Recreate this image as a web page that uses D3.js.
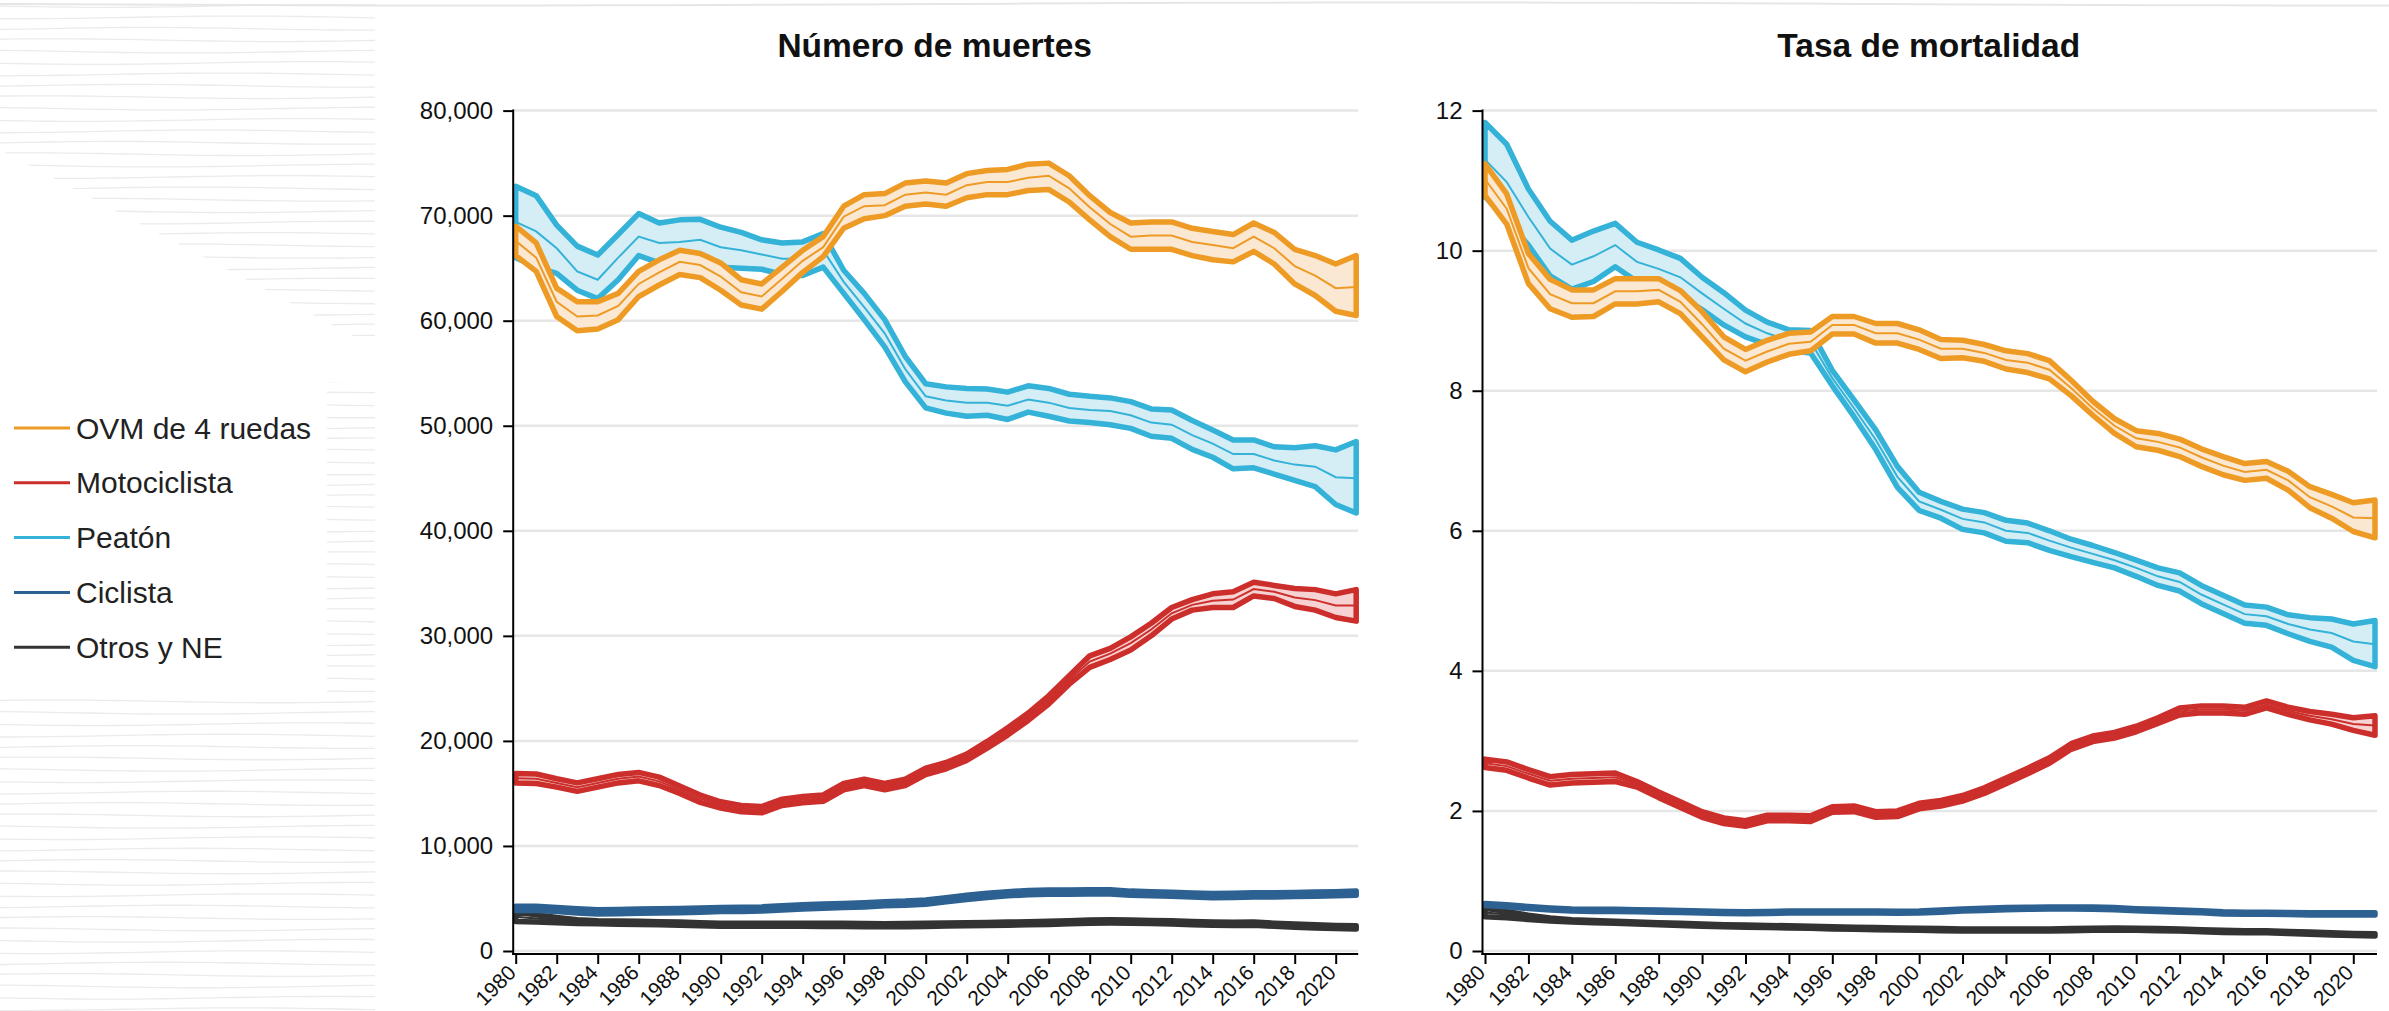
<!DOCTYPE html>
<html>
<head>
<meta charset="utf-8">
<script src="https://cdn.jsdelivr.net/npm/d3@7"></script>
<style>
  html, body { margin: 0; padding: 0; background: #fff; }
  svg { display: block; font-family: "Liberation Sans", Arial, sans-serif; }
</style>
</head>
<body>
<div id="chart"></div>
<script>
// ─── DATA ───────────────────────────────────────────────────────────────────────
const years = [1980, 1981, 1982, 1983, 1984, 1985, 1986, 1987, 1988, 1989,
  1990, 1991, 1992, 1993, 1994, 1995, 1996, 1997, 1998, 1999,
  2000, 2001, 2002, 2003, 2004, 2005, 2006, 2007, 2008, 2009,
  2010, 2011, 2012, 2013, 2014, 2015, 2016, 2017, 2018, 2019,
  2020, 2021];
const yearTicks = [1980, 1982, 1984, 1986, 1988, 1990, 1992, 1994, 1996, 1998, 2000,
  2002, 2004, 2006, 2008, 2010, 2012, 2014, 2016, 2018, 2020];
const categories = ['OVM de 4 ruedas', 'Motociclista', 'Peatón', 'Ciclista', 'Otros y NE'];
const deathTicks = [0, 10, 20, 30, 40, 50, 60, 70, 80];   // miles de muertes
const rateTicks = [0, 2, 4, 6, 8, 10, 12];

// Número de muertes (miles): límite inferior, central, superior
const deathsCarLo = [66.2, 64.7, 60.4, 59.05, 59.2, 60.1, 62.3, 63.4, 64.4, 64.1, 62.9, 61.5, 61.1, 62.8, 64.6, 66.1, 68.8, 69.7, 70.0, 70.9, 71.1, 70.9, 71.7, 72.0, 72.0, 72.4, 72.5, 71.3, 69.6, 68.0, 66.8, 66.8, 66.8, 66.2, 65.8, 65.6, 66.6, 65.4, 63.5, 62.4, 60.9, 60.5];
const deathsCarMid = [67.6, 66.0, 61.8, 60.4, 60.5, 61.4, 63.5, 64.6, 65.6, 65.3, 64.2, 62.7, 62.3, 64.0, 65.7, 67.0, 69.9, 70.9, 71.0, 72.0, 72.2, 72.0, 72.9, 73.2, 73.2, 73.6, 73.8, 72.6, 70.8, 69.2, 68.0, 68.1, 68.1, 67.5, 67.2, 66.9, 68.0, 66.9, 65.2, 64.3, 63.1, 63.2];
const deathsCarHi = [69.0, 67.4, 63.1, 61.8, 61.8, 62.6, 64.7, 65.8, 66.7, 66.4, 65.5, 63.9, 63.5, 65.1, 66.7, 68.0, 70.9, 72.0, 72.1, 73.1, 73.3, 73.1, 74.0, 74.3, 74.4, 74.9, 75.0, 73.8, 71.9, 70.3, 69.3, 69.4, 69.4, 68.8, 68.5, 68.2, 69.3, 68.4, 66.8, 66.2, 65.4, 66.2];

const deathsMotoLo = [16.0, 15.95, 15.6, 15.2, 15.6, 16.0, 16.2, 15.75, 15.0, 14.15, 13.6, 13.25, 13.15, 13.85, 14.1, 14.25, 15.35, 15.75, 15.35, 15.75, 16.8, 17.35, 18.15, 19.3, 20.55, 21.95, 23.5, 25.4, 27.0, 27.75, 28.65, 30.0, 31.6, 32.45, 32.7, 32.7, 33.8, 33.55, 32.8, 32.45, 31.75, 31.4];
const deathsMotoMid = [16.45, 16.4, 16.0, 15.6, 16.0, 16.4, 16.6, 16.15, 15.35, 14.5, 13.9, 13.55, 13.45, 14.15, 14.4, 14.55, 15.65, 16.05, 15.65, 16.05, 17.1, 17.65, 18.45, 19.6, 20.9, 22.3, 23.9, 25.8, 27.55, 28.3, 29.3, 30.6, 32.15, 32.95, 33.35, 33.45, 34.45, 34.2, 33.65, 33.4, 32.9, 32.9];
const deathsMotoHi = [16.9, 16.85, 16.4, 16.0, 16.4, 16.8, 17.0, 16.55, 15.7, 14.85, 14.2, 13.85, 13.75, 14.45, 14.7, 14.85, 15.95, 16.35, 15.95, 16.35, 17.4, 17.95, 18.75, 19.95, 21.25, 22.65, 24.3, 26.2, 28.1, 28.8, 29.9, 31.2, 32.7, 33.45, 34.0, 34.2, 35.1, 34.8, 34.5, 34.4, 34.0, 34.4];

const deathsPedLo = [66.0, 65.1, 64.5, 62.9, 62.1, 63.9, 66.2, 65.5, 65.4, 65.75, 65.1, 65.0, 64.9, 64.4, 64.3, 65.1, 62.6, 60.1, 57.5, 54.2, 51.7, 51.2, 50.9, 51.0, 50.6, 51.3, 50.9, 50.45, 50.3, 50.1, 49.75, 49.0, 48.8, 47.75, 47.0, 45.9, 46.0, 45.4, 44.8, 44.2, 42.5, 41.7];
const deathsPedMid = [69.4, 68.5, 66.9, 64.7, 63.9, 66.0, 68.0, 67.4, 67.5, 67.7, 67.0, 66.7, 66.3, 65.9, 65.9, 66.7, 63.7, 61.3, 58.8, 55.4, 52.8, 52.4, 52.2, 52.2, 51.9, 52.5, 52.2, 51.7, 51.5, 51.4, 51.0, 50.3, 50.1, 49.1, 48.3, 47.3, 47.3, 46.7, 46.3, 46.1, 45.1, 45.0];
const deathsPedHi = [72.8, 71.9, 69.1, 67.1, 66.25, 68.2, 70.2, 69.3, 69.6, 69.65, 68.9, 68.4, 67.7, 67.4, 67.5, 68.3, 64.8, 62.6, 60.1, 56.6, 54.0, 53.7, 53.55, 53.5, 53.2, 53.8, 53.55, 53.0, 52.8, 52.65, 52.3, 51.6, 51.5, 50.5, 49.6, 48.65, 48.65, 48.0, 47.9, 48.1, 47.7, 48.5];

const deathsBikeLo = [3.85, 3.85, 3.75, 3.62, 3.52, 3.55, 3.6, 3.62, 3.65, 3.7, 3.75, 3.77, 3.8, 3.9, 4.0, 4.07, 4.13, 4.2, 4.3, 4.35, 4.45, 4.68, 4.9, 5.1, 5.25, 5.35, 5.4, 5.4, 5.42, 5.42, 5.3, 5.25, 5.2, 5.13, 5.07, 5.1, 5.15, 5.15, 5.18, 5.22, 5.25, 5.3];
const deathsBikeMid = [4.05, 4.05, 3.95, 3.82, 3.72, 3.75, 3.8, 3.82, 3.85, 3.9, 3.95, 3.97, 4.0, 4.1, 4.2, 4.27, 4.33, 4.4, 4.5, 4.55, 4.65, 4.88, 5.1, 5.3, 5.45, 5.55, 5.6, 5.6, 5.62, 5.62, 5.5, 5.45, 5.4, 5.33, 5.27, 5.3, 5.35, 5.35, 5.38, 5.42, 5.45, 5.5];
const deathsBikeHi = [4.25, 4.25, 4.15, 4.02, 3.92, 3.95, 4.0, 4.02, 4.05, 4.1, 4.15, 4.17, 4.2, 4.3, 4.4, 4.47, 4.53, 4.6, 4.7, 4.75, 4.85, 5.08, 5.3, 5.5, 5.65, 5.75, 5.8, 5.8, 5.82, 5.82, 5.7, 5.65, 5.6, 5.53, 5.47, 5.5, 5.55, 5.55, 5.58, 5.62, 5.65, 5.7];

const deathsOtherLo = [2.8, 2.75, 2.68, 2.62, 2.59, 2.55, 2.53, 2.49, 2.45, 2.4, 2.35, 2.35, 2.35, 2.35, 2.35, 2.34, 2.34, 2.32, 2.3, 2.31, 2.34, 2.37, 2.4, 2.42, 2.45, 2.49, 2.53, 2.59, 2.65, 2.67, 2.65, 2.61, 2.57, 2.51, 2.45, 2.43, 2.45, 2.35, 2.27, 2.2, 2.13, 2.1];
const deathsOtherMid = [3.25, 3.1, 2.93, 2.8, 2.74, 2.7, 2.68, 2.64, 2.6, 2.55, 2.5, 2.5, 2.5, 2.5, 2.5, 2.49, 2.49, 2.47, 2.45, 2.46, 2.49, 2.52, 2.55, 2.57, 2.6, 2.64, 2.68, 2.74, 2.8, 2.82, 2.8, 2.76, 2.72, 2.66, 2.6, 2.58, 2.6, 2.5, 2.42, 2.35, 2.28, 2.25];
const deathsOtherHi = [3.7, 3.45, 3.18, 2.98, 2.89, 2.85, 2.83, 2.79, 2.75, 2.7, 2.65, 2.65, 2.65, 2.65, 2.65, 2.64, 2.64, 2.62, 2.6, 2.61, 2.64, 2.67, 2.7, 2.72, 2.75, 2.79, 2.83, 2.89, 2.95, 2.97, 2.95, 2.91, 2.87, 2.81, 2.75, 2.73, 2.75, 2.65, 2.57, 2.5, 2.43, 2.4];

// Tasa de mortalidad: límite inferior, central, superior
const rateCarLo = [10.79, 10.38, 9.53, 9.17, 9.05, 9.06, 9.24, 9.24, 9.27, 9.10, 8.77, 8.44, 8.27, 8.41, 8.52, 8.57, 8.81, 8.81, 8.68, 8.68, 8.59, 8.46, 8.47, 8.42, 8.31, 8.26, 8.17, 7.93, 7.65, 7.39, 7.20, 7.15, 7.06, 6.92, 6.80, 6.72, 6.75, 6.58, 6.33, 6.18, 5.99, 5.90];
const rateCarMid = [11.02, 10.6, 9.75, 9.38, 9.25, 9.25, 9.42, 9.42, 9.44, 9.27, 8.95, 8.6, 8.43, 8.56, 8.67, 8.7, 8.94, 8.94, 8.82, 8.82, 8.73, 8.6, 8.6, 8.54, 8.44, 8.4, 8.3, 8.04, 7.75, 7.5, 7.32, 7.27, 7.19, 7.05, 6.93, 6.84, 6.87, 6.72, 6.48, 6.35, 6.19, 6.18];
const rateCarHi = [11.24, 10.81, 9.96, 9.59, 9.44, 9.44, 9.60, 9.60, 9.60, 9.43, 9.13, 8.77, 8.59, 8.72, 8.82, 8.84, 9.06, 9.06, 8.96, 8.96, 8.87, 8.73, 8.72, 8.66, 8.57, 8.53, 8.43, 8.15, 7.85, 7.60, 7.43, 7.39, 7.31, 7.17, 7.06, 6.96, 6.99, 6.85, 6.63, 6.52, 6.40, 6.44];

const rateMotoLo = [2.62, 2.58, 2.47, 2.37, 2.40, 2.41, 2.42, 2.34, 2.19, 2.05, 1.91, 1.82, 1.78, 1.86, 1.86, 1.85, 1.98, 1.99, 1.91, 1.92, 2.03, 2.07, 2.14, 2.25, 2.39, 2.53, 2.68, 2.88, 2.99, 3.04, 3.13, 3.25, 3.37, 3.40, 3.40, 3.38, 3.47, 3.38, 3.30, 3.24, 3.15, 3.08];
const rateMotoMid = [2.68, 2.64, 2.53, 2.43, 2.46, 2.47, 2.48, 2.38, 2.23, 2.09, 1.95, 1.86, 1.82, 1.90, 1.90, 1.89, 2.02, 2.03, 1.95, 1.96, 2.07, 2.11, 2.18, 2.29, 2.43, 2.57, 2.72, 2.92, 3.03, 3.08, 3.17, 3.29, 3.42, 3.45, 3.45, 3.43, 3.52, 3.43, 3.36, 3.31, 3.24, 3.22];
const rateMotoHi = [2.74, 2.70, 2.59, 2.49, 2.52, 2.53, 2.54, 2.42, 2.27, 2.13, 1.99, 1.90, 1.86, 1.94, 1.94, 1.93, 2.06, 2.07, 1.99, 2.00, 2.11, 2.15, 2.22, 2.33, 2.47, 2.61, 2.76, 2.96, 3.07, 3.12, 3.21, 3.33, 3.47, 3.50, 3.50, 3.48, 3.57, 3.48, 3.42, 3.38, 3.33, 3.36];

const ratePedLo = [10.77, 10.44, 10.08, 9.64, 9.45, 9.56, 9.77, 9.56, 9.47, 9.35, 9.16, 8.94, 8.77, 8.66, 8.57, 8.54, 8.07, 7.63, 7.16, 6.62, 6.29, 6.18, 6.02, 5.97, 5.85, 5.83, 5.72, 5.63, 5.55, 5.47, 5.35, 5.22, 5.14, 4.96, 4.82, 4.68, 4.65, 4.53, 4.42, 4.34, 4.15, 4.06];
const ratePedMid = [11.3, 10.98, 10.48, 10.03, 9.8, 9.92, 10.08, 9.84, 9.74, 9.62, 9.39, 9.17, 8.96, 8.82, 8.72, 8.7, 8.18, 7.75, 7.3, 6.77, 6.42, 6.3, 6.17, 6.12, 6.0, 5.97, 5.86, 5.76, 5.67, 5.58, 5.47, 5.35, 5.27, 5.09, 4.95, 4.81, 4.78, 4.67, 4.59, 4.54, 4.42, 4.38];
const ratePedHi = [11.83, 11.52, 10.88, 10.42, 10.15, 10.28, 10.39, 10.12, 10.01, 9.89, 9.62, 9.40, 9.15, 8.98, 8.87, 8.86, 8.29, 7.87, 7.44, 6.92, 6.55, 6.42, 6.31, 6.26, 6.15, 6.11, 6.0, 5.88, 5.79, 5.69, 5.58, 5.47, 5.40, 5.22, 5.08, 4.94, 4.91, 4.80, 4.76, 4.74, 4.67, 4.72];

const rateBikeLo = [0.65, 0.63, 0.605, 0.585, 0.57, 0.565, 0.565, 0.56, 0.555, 0.55, 0.541, 0.535, 0.531, 0.535, 0.541, 0.541, 0.541, 0.541, 0.541, 0.538, 0.541, 0.555, 0.57, 0.58, 0.59, 0.595, 0.6, 0.6, 0.597, 0.59, 0.575, 0.565, 0.555, 0.545, 0.53, 0.525, 0.525, 0.52, 0.515, 0.515, 0.515, 0.515];
const rateBikeMid = [0.665, 0.645, 0.62, 0.60, 0.585, 0.58, 0.58, 0.575, 0.57, 0.565, 0.556, 0.55, 0.546, 0.55, 0.556, 0.556, 0.556, 0.556, 0.556, 0.553, 0.556, 0.57, 0.585, 0.595, 0.605, 0.61, 0.615, 0.615, 0.612, 0.605, 0.59, 0.58, 0.57, 0.56, 0.545, 0.54, 0.54, 0.535, 0.53, 0.53, 0.53, 0.53];
const rateBikeHi = [0.68, 0.66, 0.635, 0.615, 0.6, 0.595, 0.595, 0.59, 0.585, 0.58, 0.571, 0.565, 0.561, 0.565, 0.571, 0.571, 0.571, 0.571, 0.571, 0.568, 0.571, 0.585, 0.6, 0.61, 0.62, 0.625, 0.63, 0.63, 0.627, 0.62, 0.605, 0.595, 0.585, 0.575, 0.56, 0.555, 0.555, 0.55, 0.545, 0.545, 0.545, 0.545];

const rateOtherLo = [0.49, 0.475, 0.45, 0.43, 0.415, 0.405, 0.395, 0.385, 0.375, 0.365, 0.355, 0.345, 0.34, 0.335, 0.33, 0.325, 0.315, 0.31, 0.305, 0.3, 0.295, 0.29, 0.285, 0.285, 0.285, 0.285, 0.285, 0.29, 0.295, 0.3, 0.295, 0.29, 0.285, 0.275, 0.265, 0.26, 0.26, 0.25, 0.24, 0.23, 0.22, 0.215];
const rateOtherMid = [0.55, 0.52, 0.48, 0.45, 0.43, 0.42, 0.41, 0.40, 0.39, 0.38, 0.37, 0.36, 0.355, 0.35, 0.345, 0.34, 0.33, 0.325, 0.32, 0.315, 0.31, 0.305, 0.30, 0.30, 0.30, 0.30, 0.30, 0.305, 0.31, 0.315, 0.31, 0.305, 0.30, 0.29, 0.28, 0.275, 0.275, 0.265, 0.255, 0.245, 0.235, 0.23];
const rateOtherHi = [0.61, 0.565, 0.51, 0.47, 0.445, 0.435, 0.425, 0.415, 0.405, 0.395, 0.385, 0.375, 0.37, 0.365, 0.36, 0.355, 0.345, 0.34, 0.335, 0.33, 0.325, 0.32, 0.315, 0.315, 0.315, 0.315, 0.315, 0.32, 0.325, 0.33, 0.325, 0.32, 0.315, 0.305, 0.295, 0.29, 0.29, 0.28, 0.27, 0.26, 0.25, 0.245];

// ─── COLOURS ────────────────────────────────────────────────────────────────────
const lineColors = ['#ee9b26', '#cc2f2b', '#34b2d8', '#2c6192', '#333333'];
const fillColors = ['#fbe8d3', '#f6d3d2', '#d5eef6', '#cfdbe8', '#d9d9d9'];

// ─── CANVAS ─────────────────────────────────────────────────────────────────────
const W = 2389, H = 1011;
const svg = d3.select('#chart').append('svg')
  .attr('width', W).attr('height', H)
  .style('background', '#fff');

// paper texture on the left strip (decorative)
const tex = svg.append('g').attr('stroke', '#ebebeb').attr('stroke-width', 1.3).attr('fill', 'none');
const wavy = d3.line().curve(d3.curveBasis);
for (let k = 0; k < 90; k++) {
  const y0 = 6 + k * 11.4;
  const pts = d3.range(0, 400, 25).map(x => [x, y0 + 1.4 * Math.sin(x / 70 + k * 1.3)]);
  tex.append('path').attr('d', wavy(pts));
}
svg.append('path')
  .attr('d', wavy(d3.range(0, W + 50, 60).map(x => [x, 4 + 1.5 * Math.sin(x / 300)])))
  .attr('stroke', '#e6e6e6').attr('stroke-width', 2).attr('fill', 'none');
svg.append('polygon')
  .attr('points', '0,150 380,350 381,382 327,382 327,693 0,693')
  .attr('fill', '#fff');
svg.append('rect').attr('x', 381).attr('y', 12).attr('width', 40).attr('height', H).attr('fill', '#fff');

// ─── PANEL ──────────────────────────────────────────────────────────────────────
function drawPanel(cfg) {
  const x = d3.scaleLinear().domain([1980, 2021]).range(cfg.xRange);
  const y = d3.scaleLinear().domain([0, cfg.yMax]).range([951, 110.6]);
  const axisX = cfg.xRange[0] - 2.5;
  const g = svg.append('g');

  // grid
  g.append('g').selectAll('line').data(cfg.yTicks).join('line')
    .attr('x1', axisX).attr('x2', cfg.xRange[1] + 2)
    .attr('y1', d => y(d)).attr('y2', d => y(d))
    .attr('stroke', '#e6e6e6').attr('stroke-width', 2.5);

  // bands (drawn from last legend entry to first)
  const idx = years.map((d, i) => i);
  cfg.series.slice().reverse().forEach(s => {
    const area = d3.area()
      .x(i => x(years[i]))
      .y0(i => y(s.lo[i]))
      .y1(i => y(s.hi[i]));
    g.append('path').datum(idx)
      .attr('d', area)
      .attr('fill', s.fill)
      .attr('stroke', s.color)
      .attr('stroke-width', 5.5)
      .attr('stroke-linejoin', 'round');
    const mid = d3.line().x(i => x(years[i])).y(i => y(s.mid[i]));
    g.append('path').datum(idx)
      .attr('d', mid)
      .attr('fill', 'none')
      .attr('stroke', s.color)
      .attr('stroke-width', 2);
  });

  // y axis
  const yAxis = d3.axisLeft(y).tickValues(cfg.yTicks).tickFormat(cfg.fmt)
    .tickSize(10).tickPadding(10).tickSizeOuter(0);
  const ya = g.append('g').attr('transform', `translate(${axisX},0)`).call(yAxis)
    .attr('font-size', 24).attr('font-family', '"Liberation Sans", Arial, sans-serif');
  ya.select('.domain').remove();
  ya.selectAll('.tick line').attr('stroke', '#000').attr('stroke-width', 2);
  ya.selectAll('.tick text').attr('fill', '#111');
  ya.append('line')
    .attr('x1', 0).attr('x2', 0)
    .attr('y1', y(cfg.yMax) - 1).attr('y2', y(0) + 4)
    .attr('stroke', '#000').attr('stroke-width', 2);

  // x axis
  const xAxis = d3.axisBottom(x).tickValues(yearTicks).tickFormat(d3.format('d'))
    .tickSize(10).tickSizeOuter(0);
  const xa = g.append('g').attr('transform', `translate(0,${y(0) + 3})`).call(xAxis)
    .attr('font-size', 21).attr('font-family', '"Liberation Sans", Arial, sans-serif');
  xa.select('.domain').remove();
  xa.append('line')
    .attr('x1', axisX - 1).attr('x2', cfg.xRange[1] + 2)
    .attr('stroke', '#000').attr('stroke-width', 2);
  xa.selectAll('.tick line').attr('stroke', '#000').attr('stroke-width', 2);
  xa.selectAll('.tick text')
    .attr('fill', '#111')
    .attr('x', 0).attr('y', 0).attr('dy', 0)
    .attr('text-anchor', 'end')
    .attr('transform', 'translate(1,20) rotate(-45)');

  // title
  svg.append('text')
    .attr('x', (axisX + cfg.xRange[1]) / 2)
    .attr('y', 57)
    .attr('text-anchor', 'middle')
    .attr('font-size', 33.5)
    .attr('font-weight', 'bold')
    .attr('fill', '#111')
    .text(cfg.title);
}

const fmtThousands = d3.format(',');

drawPanel({
  title: 'Número de muertes',
  xRange: [515.7, 1356.2],
  yMax: 80,
  yTicks: deathTicks,
  fmt: d => fmtThousands(d * 1000),
  series: [
    { color: lineColors[0], fill: fillColors[0], lo: deathsCarLo, mid: deathsCarMid, hi: deathsCarHi },
    { color: lineColors[1], fill: fillColors[1], lo: deathsMotoLo, mid: deathsMotoMid, hi: deathsMotoHi },
    { color: lineColors[2], fill: fillColors[2], lo: deathsPedLo, mid: deathsPedMid, hi: deathsPedHi },
    { color: lineColors[3], fill: fillColors[3], lo: deathsBikeLo, mid: deathsBikeMid, hi: deathsBikeHi },
    { color: lineColors[4], fill: fillColors[4], lo: deathsOtherLo, mid: deathsOtherMid, hi: deathsOtherHi }
  ]
});

drawPanel({
  title: 'Tasa de mortalidad',
  xRange: [1485, 2375],
  yMax: 12,
  yTicks: rateTicks,
  fmt: d3.format('d'),
  series: [
    { color: lineColors[0], fill: fillColors[0], lo: rateCarLo, mid: rateCarMid, hi: rateCarHi },
    { color: lineColors[1], fill: fillColors[1], lo: rateMotoLo, mid: rateMotoMid, hi: rateMotoHi },
    { color: lineColors[2], fill: fillColors[2], lo: ratePedLo, mid: ratePedMid, hi: ratePedHi },
    { color: lineColors[3], fill: fillColors[3], lo: rateBikeLo, mid: rateBikeMid, hi: rateBikeHi },
    { color: lineColors[4], fill: fillColors[4], lo: rateOtherLo, mid: rateOtherMid, hi: rateOtherHi }
  ]
});

// ─── LEGEND ─────────────────────────────────────────────────────────────────────
const legend = svg.append('g').attr('transform', 'translate(14,428)');
const rows = legend.selectAll('g').data(categories).join('g')
  .attr('transform', (d, i) => `translate(0,${i * 54.8})`);
rows.append('line')
  .attr('x1', 0).attr('x2', 56)
  .attr('stroke', (d, i) => lineColors[i])
  .attr('stroke-width', 3);
rows.append('text')
  .attr('x', 62).attr('dy', '0.35em')
  .attr('font-size', 30)
  .attr('fill', '#222')
  .text(d => d);
</script>
</body>
</html>
